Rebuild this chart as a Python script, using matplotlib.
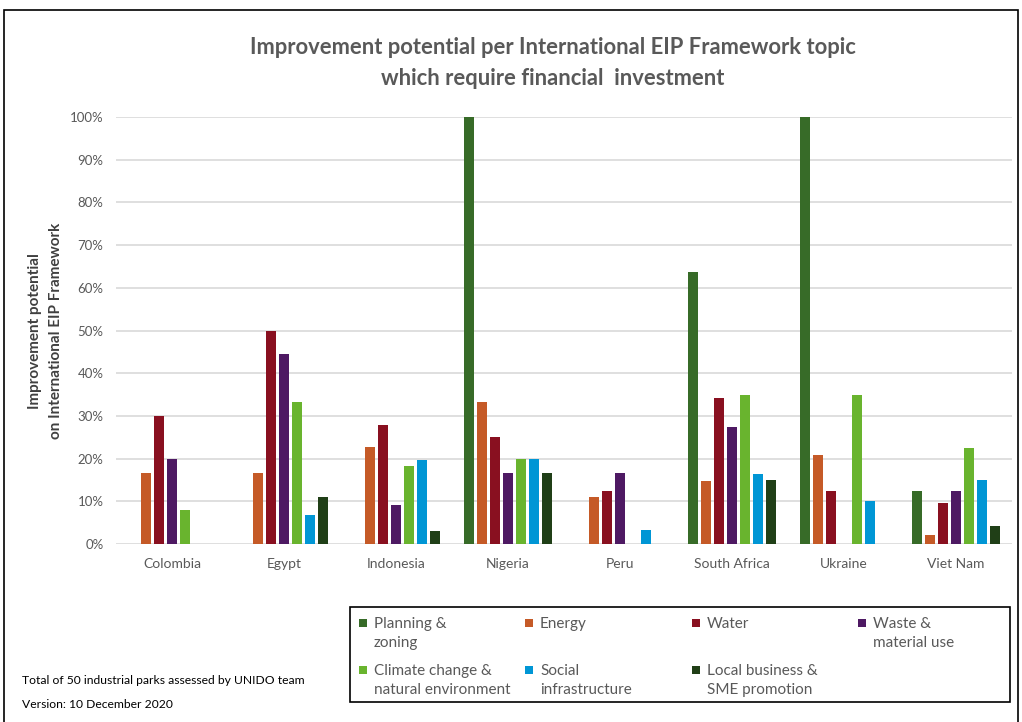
# bar chart: improvement potential per EIP framework topic, by country
import numpy as np
import matplotlib.pyplot as plt
from matplotlib.patches import Rectangle

countries = ['Colombia', 'Egypt', 'Indonesia', 'Nigeria', 'Peru',
             'South Africa', 'Ukraine', 'Viet Nam']
topics = ['Planning &\nzoning', 'Energy', 'Water', 'Waste &\nmaterial use',
          'Climate change &\nnatural environment', 'Social\ninfrastructure',
          'Local business &\nSME promotion']
colors = ['#376B28', '#C55A27', '#891020', '#4E1963', '#69B42E', '#0096D5', '#203F17']

# values in %
planning = [0, 0, 0, 100, 0, 63.6, 100, 12.5]
energy = [16.7, 16.7, 22.7, 33.3, 11.1, 14.7, 20.8, 2.1]
water = [30, 50, 27.8, 25, 12.5, 34.1, 12.5, 9.5]
waste = [20, 44.4, 9.1, 16.7, 16.7, 27.3, 0, 12.5]
climate = [8, 33.3, 18.2, 20, 0, 35, 35, 22.5]
social = [0, 6.7, 19.6, 20, 3.3, 16.3, 10, 15]
local = [0, 11.1, 3.0, 16.7, 0, 15, 0, 4.2]
series = [planning, energy, water, waste, climate, social, local]

plt.rcParams['font.family'] = ['Lato', 'DejaVu Sans']
grey = '#595959'
W, H = 1022, 722

fig = plt.figure(figsize=(W/100, H/100), dpi=100)
ax = fig.add_axes([116/W, 1-544/H, 896/W, 427/H])

x = np.arange(len(countries))
slot = 0.115
width = 0.09
for i, vals in enumerate(series):
    ax.bar(x + (i - 3) * slot, vals, width, color=colors[i])

ax.set_xlim(-0.5, len(countries) - 0.5)
ax.set_ylim(0, 100)
ax.set_yticks(range(0, 101, 10))
ax.set_yticklabels([f'{v}%' for v in range(0, 101, 10)])
ax.set_xticks(x)
ax.set_xticklabels(countries)
ax.tick_params(axis='both', length=0, colors=grey)
ax.tick_params(axis='x', labelsize=10, pad=10)
ax.tick_params(axis='y', labelsize=9.5, pad=9)
ax.grid(axis='y', color='#D9D9D9', linewidth=1.2)
ax.set_axisbelow(True)
for s in ax.spines.values():
    s.set_visible(False)

ax.set_ylabel('Improvement potential\non International EIP Framework',
              fontsize=11, fontweight='bold', color='#404040', linespacing=1.6)
ax.yaxis.set_label_coords(63/W, 1-331/H, transform=fig.transFigure)

fig.text(553/W, 1-63/H,
         'Improvement potential per International EIP Framework topic\nwhich require financial  investment',
         ha='center', va='center', fontsize=15.8, fontweight='bold', color=grey,
         linespacing=1.55)

# outer frame
fig.patches.append(Rectangle((4/W, -0.01), 1014/W, 1 - 10/H + 0.01,
                             transform=fig.transFigure, fill=False,
                             edgecolor='black', linewidth=1.2))

# legend box drawn by hand: 4 columns, 2 rows
fig.patches.append(Rectangle((350/W, 1-702/H), 660/W, 95/H,
                             transform=fig.transFigure, fill=False,
                             edgecolor='black', linewidth=1.2))
col_x = [363, 529, 696, 862]
row_y = [623, 670]
for i, lab in enumerate(topics):
    cx = col_x[i % 4]
    cy = row_y[i // 4]
    fig.patches.append(Rectangle(((cx - 4)/W, 1-(cy + 4)/H), 8/W, 8/H,
                                 transform=fig.transFigure,
                                 facecolor=colors[i], edgecolor='none'))
    fig.text((cx + 11)/W, 1-(cy - 6)/H, lab, fontsize=11, color=grey,
             va='top', ha='left', linespacing=1.45)

fig.text(22/W, 1-680/H, 'Total of 50 industrial parks assessed by UNIDO team',
         fontsize=8.7, va='center', color='black')
fig.text(22/W, 1-704/H, 'Version: 10 December 2020',
         fontsize=8.7, va='center', color='black')

fig.savefig('out.png', dpi=100)
